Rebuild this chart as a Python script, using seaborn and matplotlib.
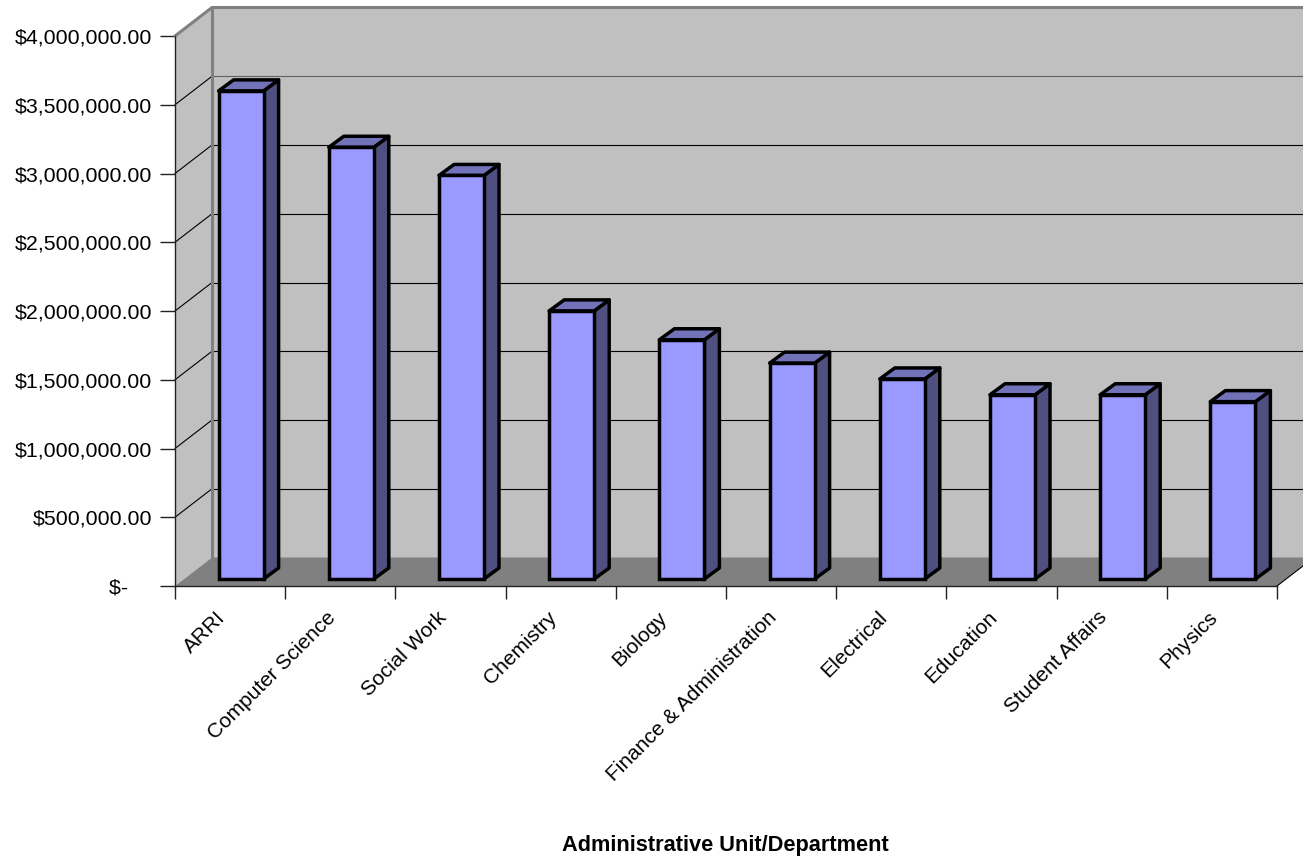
import matplotlib
matplotlib.use('Agg')
import matplotlib.pyplot as plt
import numpy as np
import pandas as pd
import seaborn as sns
from matplotlib.patches import Polygon
from matplotlib.transforms import Affine2D

departments = ['ARRI', 'Computer Science', 'Social Work', 'Chemistry', 'Biology',
               'Finance & Administration', 'Electrical', 'Education',
               'Student Affairs', 'Physics']
funding = [3550000, 3140000, 2935000, 1950000, 1740000, 1570000, 1455000, 1340000,
           1340000, 1290000]
y_ticks = [0, 500000, 1000000, 1500000, 2000000, 2500000, 3000000, 3500000, 4000000]
y_labels = ['$-    ', '$500,000.00', '$1,000,000.00', '$1,500,000.00', '$2,000,000.00',
            '$2,500,000.00', '$3,000,000.00', '$3,500,000.00', '$4,000,000.00']

sns.set_theme(style='white')
plt.rcParams['font.family'] = ['Liberation Sans', 'DejaVu Sans']

W, H = 1303, 861
fig = plt.figure(figsize=(W / 100, H / 100), dpi=100)
ax = fig.add_axes([175 / W, (H - 586) / H, 1102 / W, 550 / H])
ax.patch.set_visible(False)

df = pd.DataFrame({'department': departments, 'funding': funding})
sns.barplot(data=df, x='department', y='funding', color='#9999FF', saturation=1,
            width=45 / 110.2, edgecolor='black', linewidth=2.5, ax=ax, zorder=3)

ax.set_xlim(-0.5, 9.5)
ax.set_ylim(0, 4000000)

# pixels -> data units
xu = 1102 / 10
yu = 550 / 4000000
wall_dx, wall_dy = 37 / xu, 28.5 / yu
depth_dx, depth_dy = 15 / xu, 11 / yu

# walls and floor
x0, x1 = -0.5, 9.5
top = 4000000
ax.add_patch(Polygon([(x0 + wall_dx, wall_dy), (x1 + wall_dx, wall_dy),
                      (x1 + wall_dx, top + wall_dy), (x0 + wall_dx, top + wall_dy)],
                     fc='#C0C0C0', ec='none', zorder=0.5, clip_on=False))
ax.add_patch(Polygon([(x0, 0), (x0 + wall_dx, wall_dy), (x0 + wall_dx, top + wall_dy), (x0, top)],
                     fc='#C0C0C0', ec='none', zorder=0.5, clip_on=False))
ax.add_patch(Polygon([(x0, 0), (x1, 0), (x1 + wall_dx, wall_dy), (x0 + wall_dx, wall_dy)],
                     fc='#808080', ec='none', zorder=0.6, clip_on=False))

# gridlines
for t in y_ticks[1:-1]:
    back = '#606060' if t == 3500000 else 'black'
    ax.plot([x0, x0 + wall_dx], [t, t + wall_dy], color='black', lw=0.8, zorder=0.8, clip_on=False)
    ax.plot([x0 + wall_dx, x1 + wall_dx], [t + wall_dy, t + wall_dy], color=back, lw=0.8,
            zorder=0.8, clip_on=False)
ax.plot([x0, x0 + wall_dx, x1 + wall_dx], [top, top + wall_dy, top + wall_dy],
        color='#808080', lw=2.2, zorder=0.9, clip_on=False)
ax.plot([x0 + wall_dx, x0 + wall_dx], [wall_dy, top + wall_dy],
        color='#808080', lw=2.2, zorder=0.9, clip_on=False)
ax.plot([x1, x1 + wall_dx], [0, wall_dy], color='black', lw=0.8, zorder=0.9, clip_on=False)

# move the seaborn bars onto the floor and give them depth
shift = ax.transData + Affine2D().translate(11, 7)
for bar in ax.patches:
    if bar.get_zorder() != 3:
        continue
    bar.set_transform(shift)
    bar.set_clip_on(False)
    l, w, h = bar.get_x(), bar.get_width(), bar.get_height()
    r = l + w
    ax.add_patch(Polygon([(r, 0), (r + depth_dx, depth_dy), (r + depth_dx, h + depth_dy), (r, h)],
                         fc='#505080', ec='black', lw=2.5, joinstyle='round',
                         transform=shift, zorder=2.9, clip_on=False))
    ax.add_patch(Polygon([(l, h), (r, h), (r + depth_dx, h + depth_dy), (l + depth_dx, h + depth_dy)],
                         fc='#7272B8', ec='black', lw=2.5, joinstyle='round',
                         transform=shift, zorder=2.9, clip_on=False))

# axes
sns.despine(ax=ax, top=True, right=True)
for side in ['left', 'bottom']:
    ax.spines[side].set_color('#222222')
    ax.spines[side].set_linewidth(1)
ax.set_yticks(y_ticks)
ax.set_yticklabels(y_labels)
ax.tick_params(axis='y', left=True, length=10.8, width=1, color='#222222', pad=5.8,
               labelsize=15.4, labelcolor='black')
ax.set_xticks(np.arange(len(departments)))
ax.set_xticklabels(departments, rotation=45, ha='right', rotation_mode='anchor')
ax.tick_params(axis='x', bottom=False, length=0, pad=15.6, labelsize=15, labelcolor='black')
ax.set_xticks(np.arange(len(departments) + 1) - 0.5, minor=True)
ax.tick_params(axis='x', which='minor', bottom=True, length=9.4, width=1, color='#222222')
for label in ax.get_xticklabels():
    label.set_transform(label.get_transform() + Affine2D().translate(-14, 0))

ax.set_ylabel('')
ax.set_xlabel('Administrative Unit/Department', fontweight='bold', fontsize=15.7, color='black', va='center')
ax.xaxis.set_label_coords(0.499, -260 / 550)

fig.savefig('out.png', dpi=100)
